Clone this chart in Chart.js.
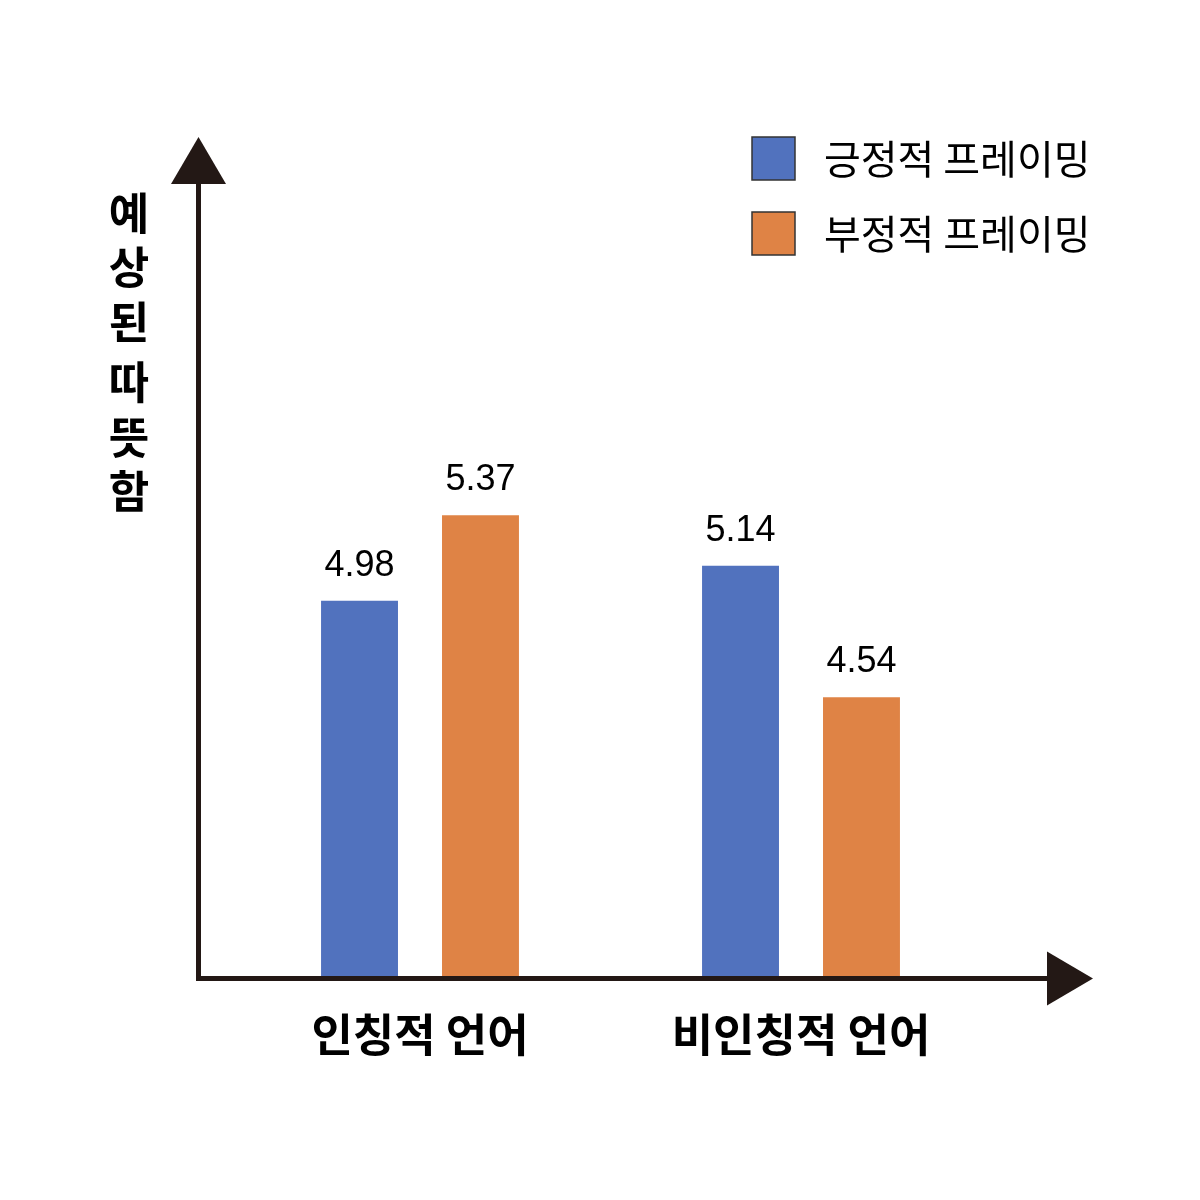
<!DOCTYPE html>
<html lang="ko">
<head>
<meta charset="utf-8">
<title>예상된 따뜻함</title>
<script src="https://cdn.jsdelivr.net/npm/chart.js@4.4.1/dist/chart.umd.min.js"></script>
<style>
  html, body { margin: 0; padding: 0; background: #fff; }
  #wrap { width: 1200px; height: 1200px; }
</style>
</head>
<body>
<div id="wrap"><canvas id="warmthChart" width="1200" height="1200"></canvas></div>
<script>
// data
const categories = ['인칭적 언어', '비인칭적 언어'];
const seriesNames = ['긍정적 프레이밍', '부정적 프레이밍'];
const positiveValues = [4.98, 5.14];
const negativeValues = [5.37, 4.54];
const yTitle = '예상된 따뜻함';

const BLUE = '#5172BE';
const ORANGE = '#DF8345';
const AXIS = '#231815';
const KR = '"Noto Sans CJK KR", "Noto Sans", sans-serif';

// arrows, stacked y title, value labels, legend placement
const decorations = {
    id: 'decorations',
    afterLayout(chart) {
        const lg = chart.legend;
        if (!lg) return;
        lg.left = 720;
        lg.top = 105;
        lg.right = lg.left + lg.width;
        lg.bottom = lg.top + lg.height;
    },
    afterDatasetsDraw(chart) {
        const ctx = chart.ctx;
        const area = chart.chartArea;
        ctx.save();

        // value labels above bars
        ctx.fillStyle = '#000';
        ctx.font = '36px "Liberation Sans", Arial, sans-serif';
        ctx.textAlign = 'center';
        ctx.textBaseline = 'alphabetic';
        chart.data.datasets.forEach((ds, i) => {
            chart.getDatasetMeta(i).data.forEach((bar, j) => {
                ctx.fillText(ds.data[j].toFixed(2), bar.x, bar.y - 25);
            });
        });

        // axes with arrow heads
        const ax = area.left - 31;
        const ay = area.bottom + 2.5;
        ctx.strokeStyle = AXIS;
        ctx.fillStyle = AXIS;
        ctx.lineWidth = 5;
        ctx.beginPath();
        ctx.moveTo(ax, ay + 2.5);
        ctx.lineTo(ax, area.top);
        ctx.moveTo(ax - 2.5, ay);
        ctx.lineTo(1048, ay);
        ctx.stroke();

        ctx.beginPath();
        ctx.moveTo(ax - 27.5, area.top);
        ctx.lineTo(ax + 27.5, area.top);
        ctx.lineTo(ax, area.top - 47);
        ctx.closePath();
        ctx.fill();

        ctx.beginPath();
        ctx.moveTo(1047, ay - 27);
        ctx.lineTo(1047, ay + 27);
        ctx.lineTo(1093, ay);
        ctx.closePath();
        ctx.fill();

        // y title, one upright character per line
        ctx.fillStyle = '#000';
        ctx.font = 'bold 44px ' + KR;
        ctx.textAlign = 'center';
        ctx.textBaseline = 'middle';
        let y = 213;
        for (const ch of yTitle) {
            if (ch === ' ') { y += 6; continue; }
            ctx.fillText(ch, 129, y);
            y += 54.5;
        }
        ctx.restore();
    }
};

new Chart(document.getElementById('warmthChart'), {
    type: 'bar',
    data: {
        labels: categories,
        datasets: [
            { label: seriesNames[0], data: positiveValues, backgroundColor: BLUE },
            { label: seriesNames[1], data: negativeValues, backgroundColor: ORANGE }
        ]
    },
    options: {
        responsive: false,
        animation: false,
        devicePixelRatio: 1,
        categoryPercentage: 0.635,
        barPercentage: 0.636,
        layout: {
            padding: { left: 229.5, right: 208.5, top: 184, bottom: 124 }
        },
        scales: {
            x: {
                grid: { display: false, drawTicks: false },
                border: { display: false },
                ticks: {
                    color: '#000',
                    padding: 32,
                    font: { family: KR, size: 45, weight: 'bold' }
                },
                afterFit(scale) { scale.height = 100; }
            },
            y: {
                display: false,
                min: 3.27,
                max: 6.88
            }
        },
        plugins: {
            tooltip: { enabled: false },
            legend: {
                position: 'chartArea',
                align: 'start',
                labels: {
                    color: '#000',
                    boxWidth: 43,
                    boxHeight: 43,
                    padding: 32,
                    font: { family: KR, size: 40 },
                    generateLabels(chart) {
                        const items = Chart.defaults.plugins.legend.labels.generateLabels(chart);
                        items.forEach(it => {
                            it.text = ' ' + it.text;
                            it.strokeStyle = '#333';
                            it.lineWidth = 1.5;
                        });
                        return items;
                    }
                }
            }
        }
    },
    plugins: [decorations]
});
</script>
</body>
</html>
